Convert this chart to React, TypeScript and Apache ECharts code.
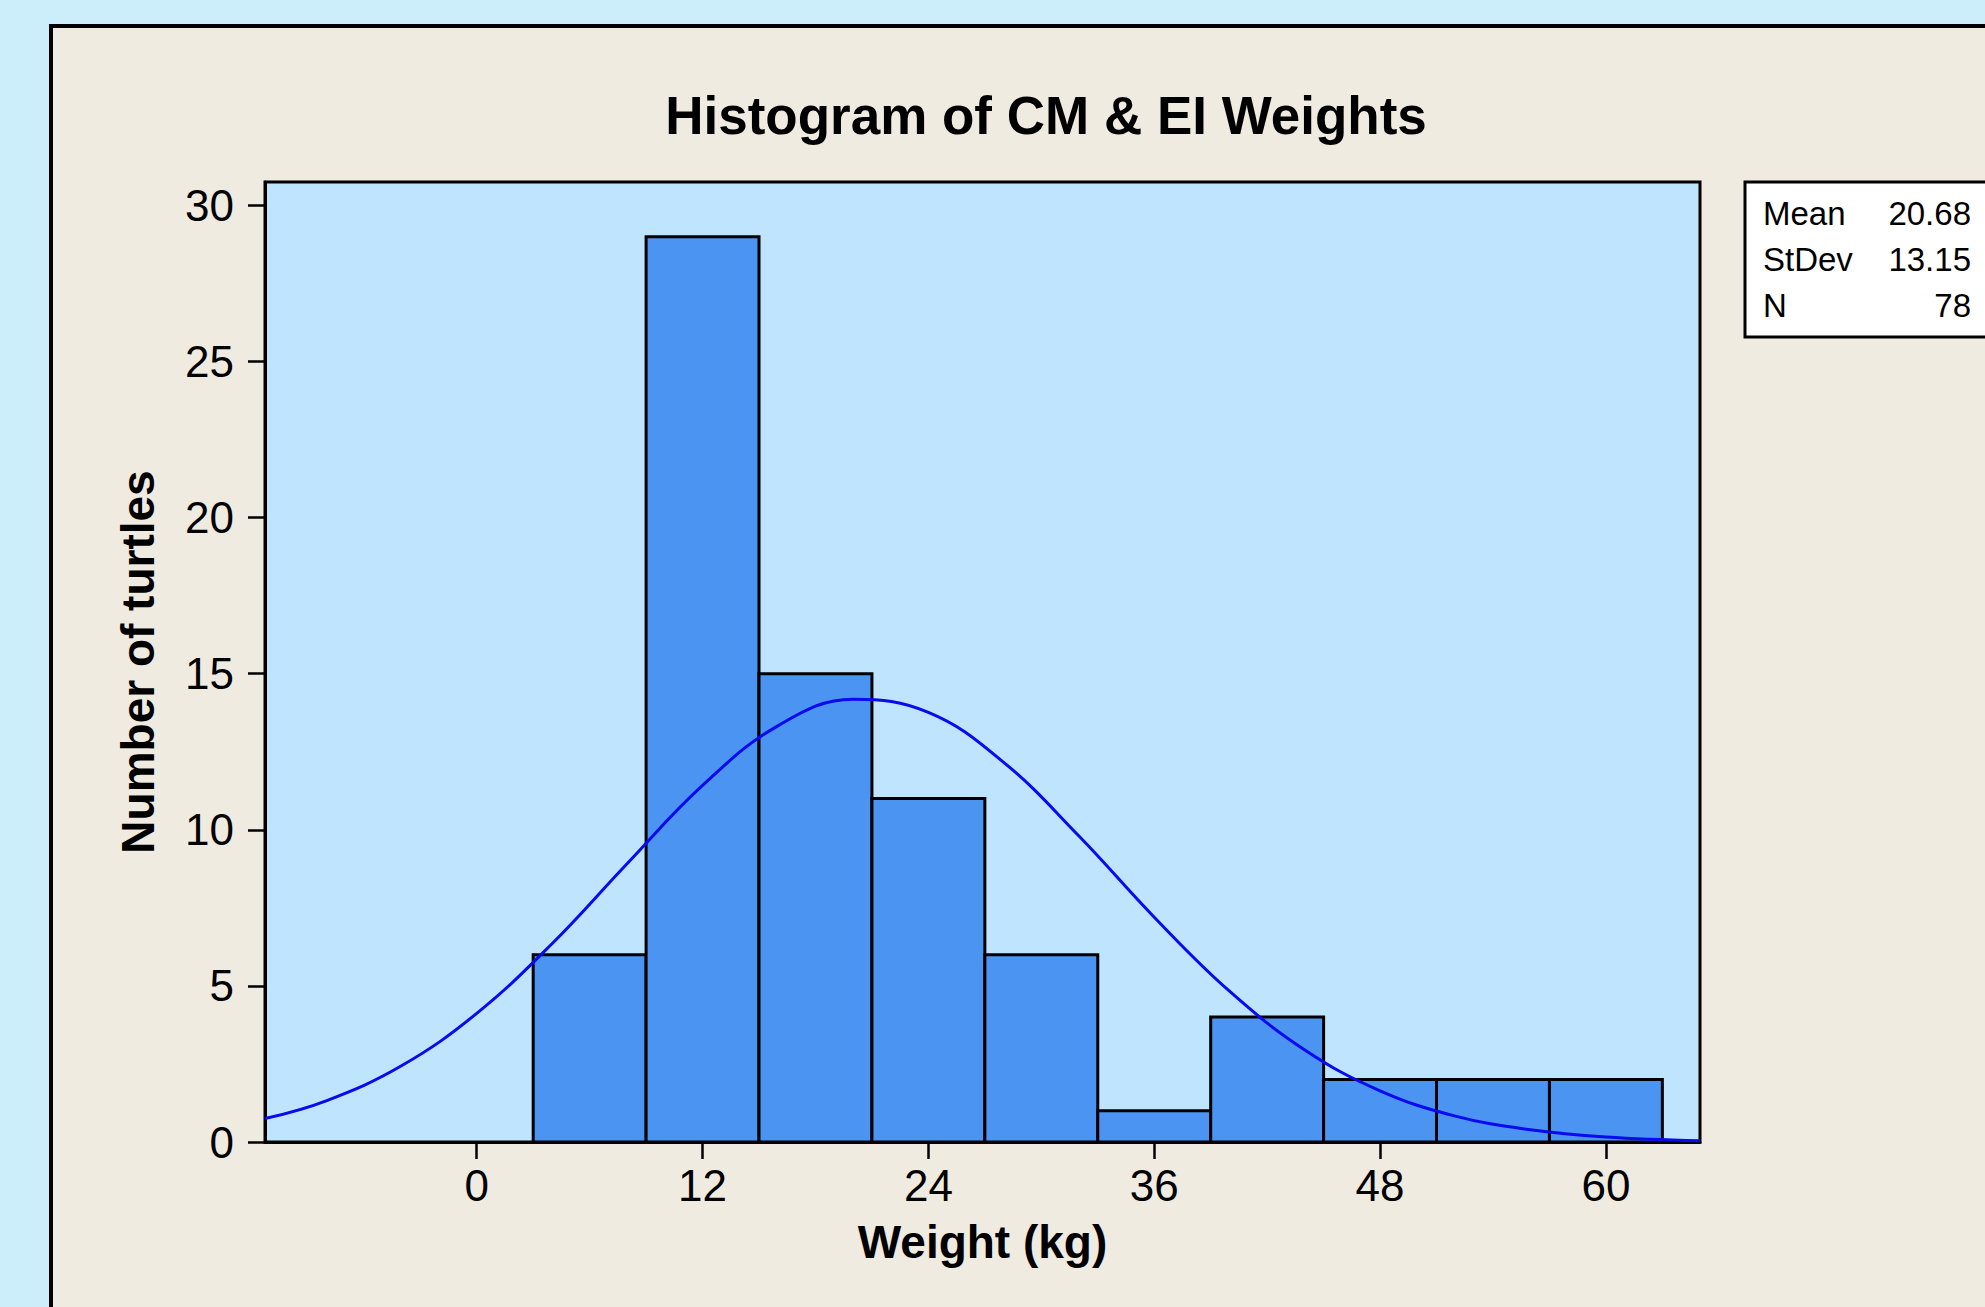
import React, { useEffect, useRef } from "react";
import * as echarts from "echarts";

const binStarts = [3, 9, 15, 21, 27, 33, 39, 45, 51, 57];
const binEnds = [9, 15, 21, 27, 33, 39, 45, 51, 57, 63];
const counts = [6, 29, 15, 11, 6, 1, 4, 2, 2, 2];

const curveX = [-11.25, -8, -4, 0, 4, 8, 12, 16, 20, 24, 28, 32, 36, 40, 44, 48, 52, 56, 60, 65];
const curveY = [0.75, 1.32, 2.44, 4.12, 6.35, 8.92, 11.42, 13.33, 14.18, 13.76, 12.16, 9.8, 7.2, 4.83, 2.95, 1.64, 0.83, 0.39, 0.16, 0.04];

const xTicks = [0, 12, 24, 36, 48, 60];
const yTicks = [0, 5, 10, 15, 20, 25, 30];

const statLabels = ["Mean", "StDev", "N"];
const statValues = ["20.68", "13.15", "78"];

const FONT = "'Liberation Sans', Arial, sans-serif";

export default function App() {
  const ref = useRef<HTMLDivElement>(null);

  useEffect(() => {
    if (!ref.current) return;
    const chart = echarts.init(ref.current, null, { renderer: "svg" });

    const histData = binStarts.map((s, i) => [s, binEnds[i], counts[i]]);
    const curveData = curveX.map((x, i) => [x, curveY[i]]);

    const statRows: any[] = [];
    const rowY = [213, 259, 305];
    statLabels.forEach((l, i) => {
      statRows.push({
        type: "text",
        x: 1763,
        y: rowY[i],
        style: { text: l, font: `33px ${FONT}`, fill: "#000", verticalAlign: "middle" },
        z: 20,
      });
      statRows.push({
        type: "text",
        x: 1971,
        y: rowY[i],
        style: { text: statValues[i], font: `33px ${FONT}`, fill: "#000", align: "right", verticalAlign: "middle" },
        z: 20,
      });
    });

    chart.setOption({
      animation: false,
      backgroundColor: "transparent",
      title: {
        text: "Histogram of CM & EI Weights",
        left: 1041,
        textAlign: "center",
        top: 84,
        textStyle: { fontFamily: FONT, fontWeight: "bold", fontSize: 53, color: "#000" },
      },
      grid: {
        left: 265,
        top: 182,
        width: 1435,
        height: 960,
        show: true,
        backgroundColor: "#BEE5FD",
        borderColor: "#000",
        borderWidth: 3,
      },
      xAxis: {
        type: "value",
        min: -11.25,
        max: 65,
        name: "Weight (kg)",
        nameLocation: "middle",
        nameGap: 77,
        nameTextStyle: { fontFamily: FONT, fontWeight: "bold", fontSize: 46, color: "#000" },
        splitLine: { show: false },
        axisLine: { show: true, onZero: false, lineStyle: { color: "#000", width: 3 } },
        axisTick: { show: true, length: 17, lineStyle: { color: "#000", width: 2.5 }, customValues: xTicks },
        axisLabel: { fontFamily: FONT, fontSize: 44, color: "#000", margin: 21, customValues: xTicks },
      },
      yAxis: {
        type: "value",
        min: 0,
        max: 30.75,
        name: "Number of turtles",
        nameLocation: "middle",
        nameGap: 104,
        nameTextStyle: { fontFamily: FONT, fontWeight: "bold", fontSize: 46, color: "#000" },
        splitLine: { show: false },
        axisLine: { show: true, onZero: false, lineStyle: { color: "#000", width: 3 } },
        axisTick: { show: true, length: 17, lineStyle: { color: "#000", width: 2.5 }, customValues: yTicks },
        axisLabel: { fontFamily: FONT, fontSize: 44, color: "#000", margin: 31, customValues: yTicks },
      },
      series: [
        {
          type: "custom",
          data: histData,
          encode: { x: [0, 1], y: 2 },
          renderItem: (params: any, api: any) => {
            const s = api.value(0);
            const e = api.value(1);
            const c = api.value(2);
            const p1 = api.coord([s, c]);
            const p2 = api.coord([e, 0]);
            return {
              type: "rect",
              shape: { x: p1[0], y: p1[1], width: p2[0] - p1[0], height: p2[1] - p1[1] },
              style: { fill: "#4B94F2", stroke: "#000", lineWidth: 3 },
            };
          },
          z: 2,
        },
        {
          type: "line",
          data: curveData,
          smooth: 0.4,
          showSymbol: false,
          symbol: "none",
          lineStyle: { color: "#0A0AF0", width: 3 },
          z: 5,
        },
      ],
      graphic: [
        {
          type: "rect",
          shape: { x: 1745, y: 182, width: 300, height: 155 },
          style: { fill: "#fff", stroke: "#000", lineWidth: 3 },
          z: 10,
        },
        ...statRows,
      ],
    });

    return () => chart.dispose();
  }, []);

  return (
    <div style={{ position: "fixed", left: 0, top: 0, width: 1985, height: 1307, background: "#CCEEFA", overflow: "hidden" }}>
      <div
        style={{
          position: "absolute",
          left: 49,
          top: 24,
          width: 2100,
          height: 1400,
          background: "#EFEBE0",
          border: "4px solid #000",
        }}
      />
      <div ref={ref} style={{ position: "absolute", left: 0, top: 0, width: 1985, height: 1307 }} />
    </div>
  );
}
